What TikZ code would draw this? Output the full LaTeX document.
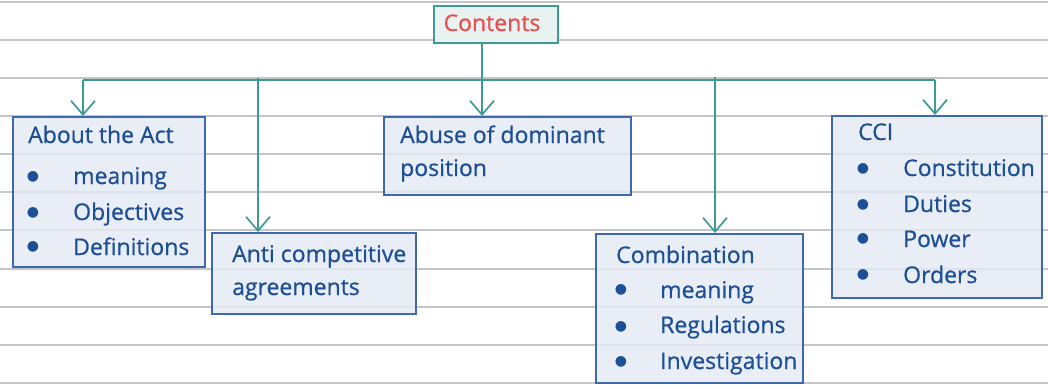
\documentclass[tikz,border=0pt]{standalone}
\usepackage{fontspec}
\setmainfont{Open Sans}[FakeBold=0.7]
\newfontfamily\lblfont{Open Sans}[FakeBold=0.7]
\newfontfamily\bulfont{DejaVu Sans}
\usetikzlibrary{arrows.meta}
\definecolor{ruleg}{HTML}{C4C6C8}
\definecolor{boxblue}{HTML}{3F68AE}
\definecolor{boxfill}{HTML}{E4E9F4}
\definecolor{txtblue}{HTML}{1D4F96}
\definecolor{teal}{HTML}{3E9A94}
\definecolor{tealfill}{HTML}{E8F2F1}
\definecolor{redtxt}{HTML}{E84E4E}
\tikzset{
  ruled/.style={draw=ruleg, line width=2pt},
  box/.style={draw=boxblue, line width=2.4pt, fill=boxfill, fill opacity=0.8, rectangle, anchor=north west, inner sep=0pt},
  topbox/.style={draw=teal, line width=2.4pt, fill=tealfill, rectangle, anchor=north west, inner sep=0pt},
  lbl/.style={anchor=base west, inner sep=0pt, text=txtblue, font=\lblfont\fontsize{23}{26}\selectfont},
  bul/.style={anchor=center, inner sep=0pt, text=txtblue, font=\bulfont\fontsize{14}{14}\selectfont},
  conn/.style={draw=teal, line width=1.7pt},
  arr/.style={conn, -{Straight Barb[length=14pt, width=24pt]}}
}
\begin{document}
\begin{tikzpicture}[x=1pt, y=-1pt]
\useasboundingbox (0,0) rectangle (1048,388);
\fill[white] (0,0) rectangle (1048,388);
% ruled background
\foreach \k in {0,...,10} {
  \draw[ruled] (0,{1.8+38.1*\k}) -- (1048,{1.8+38.1*\k});
}
% boxes
\node[topbox, minimum width=124pt, minimum height=37pt] (contents) at (433,5) {};
\node[anchor=base, inner sep=0pt, text=redtxt, font=\lblfont\fontsize{23}{26}\selectfont] (contents-t) at (492,31) {Contents};

\node[box, minimum width=192pt, minimum height=150pt] (about) at (12,116) {};
\node[lbl] (about-t) at (28,143) {About the Act};
\node[bul] (about-b1) at (33,177) {●};
\node[lbl] (about-1) at (73,184) {meaning};
\node[bul] (about-b2) at (33,213) {●};
\node[lbl] (about-2) at (73,220) {Objectives};
\node[bul] (about-b3) at (33,247) {●};
\node[lbl] (about-3) at (73,255) {Definitions};

\node[box, minimum width=204pt, minimum height=81pt] (anti) at (211,232) {};
\node[lbl] (anti-1) at (232,262) {Anti competitive};
\node[lbl] (anti-2) at (232,295) {agreements};

\node[box, minimum width=247pt, minimum height=78pt] (abuse) at (383,116) {};
\node[lbl] (abuse-1) at (400,143) {Abuse of dominant};
\node[lbl] (abuse-2) at (400,176) {position};

\node[box, minimum width=207pt, minimum height=149pt] (comb) at (595,233) {};
\node[lbl] (comb-t) at (616,263) {Combination};
\node[bul] (comb-b1) at (621,290) {●};
\node[lbl] (comb-1) at (660,298) {meaning};
\node[bul] (comb-b2) at (621,327) {●};
\node[lbl] (comb-2) at (660,333) {Regulations};
\node[bul] (comb-b3) at (621,362) {●};
\node[lbl] (comb-3) at (660,369) {Investigation};

\node[box, minimum width=210pt, minimum height=182pt] (cci) at (831,115) {};
\node[lbl] (cci-t) at (858,140) {CCI};
\node[bul] (cci-b1) at (863,169) {●};
\node[lbl] (cci-1) at (903,176) {Constitution};
\node[bul] (cci-b2) at (863,205) {●};
\node[lbl] (cci-2) at (903,212) {Duties};
\node[bul] (cci-b3) at (863,239) {●};
\node[lbl] (cci-3) at (903,247) {Power};
\node[bul] (cci-b4) at (863,275) {●};
\node[lbl] (cci-4) at (903,283) {Orders};

% connectors
\coordinate (busL) at (83,80);
\coordinate (busM) at (482,80);
\coordinate (busR) at (935,80);
\coordinate (antiTop) at (258,78);
\coordinate (combTop) at (715,77);
\draw[conn] (busL) -- (busR);
\draw[conn] (contents.south -| busM) -- (busM);
\draw[arr] (busL) -- (about.north -| busL);
\draw[arr] (busM) -- (abuse.north -| busM);
\draw[arr] (busR) -- (cci.north -| busR);
\draw[arr] (antiTop) -- (anti.north -| antiTop);
\draw[arr] (combTop) -- (comb.north -| combTop);
\end{tikzpicture}
\end{document}
